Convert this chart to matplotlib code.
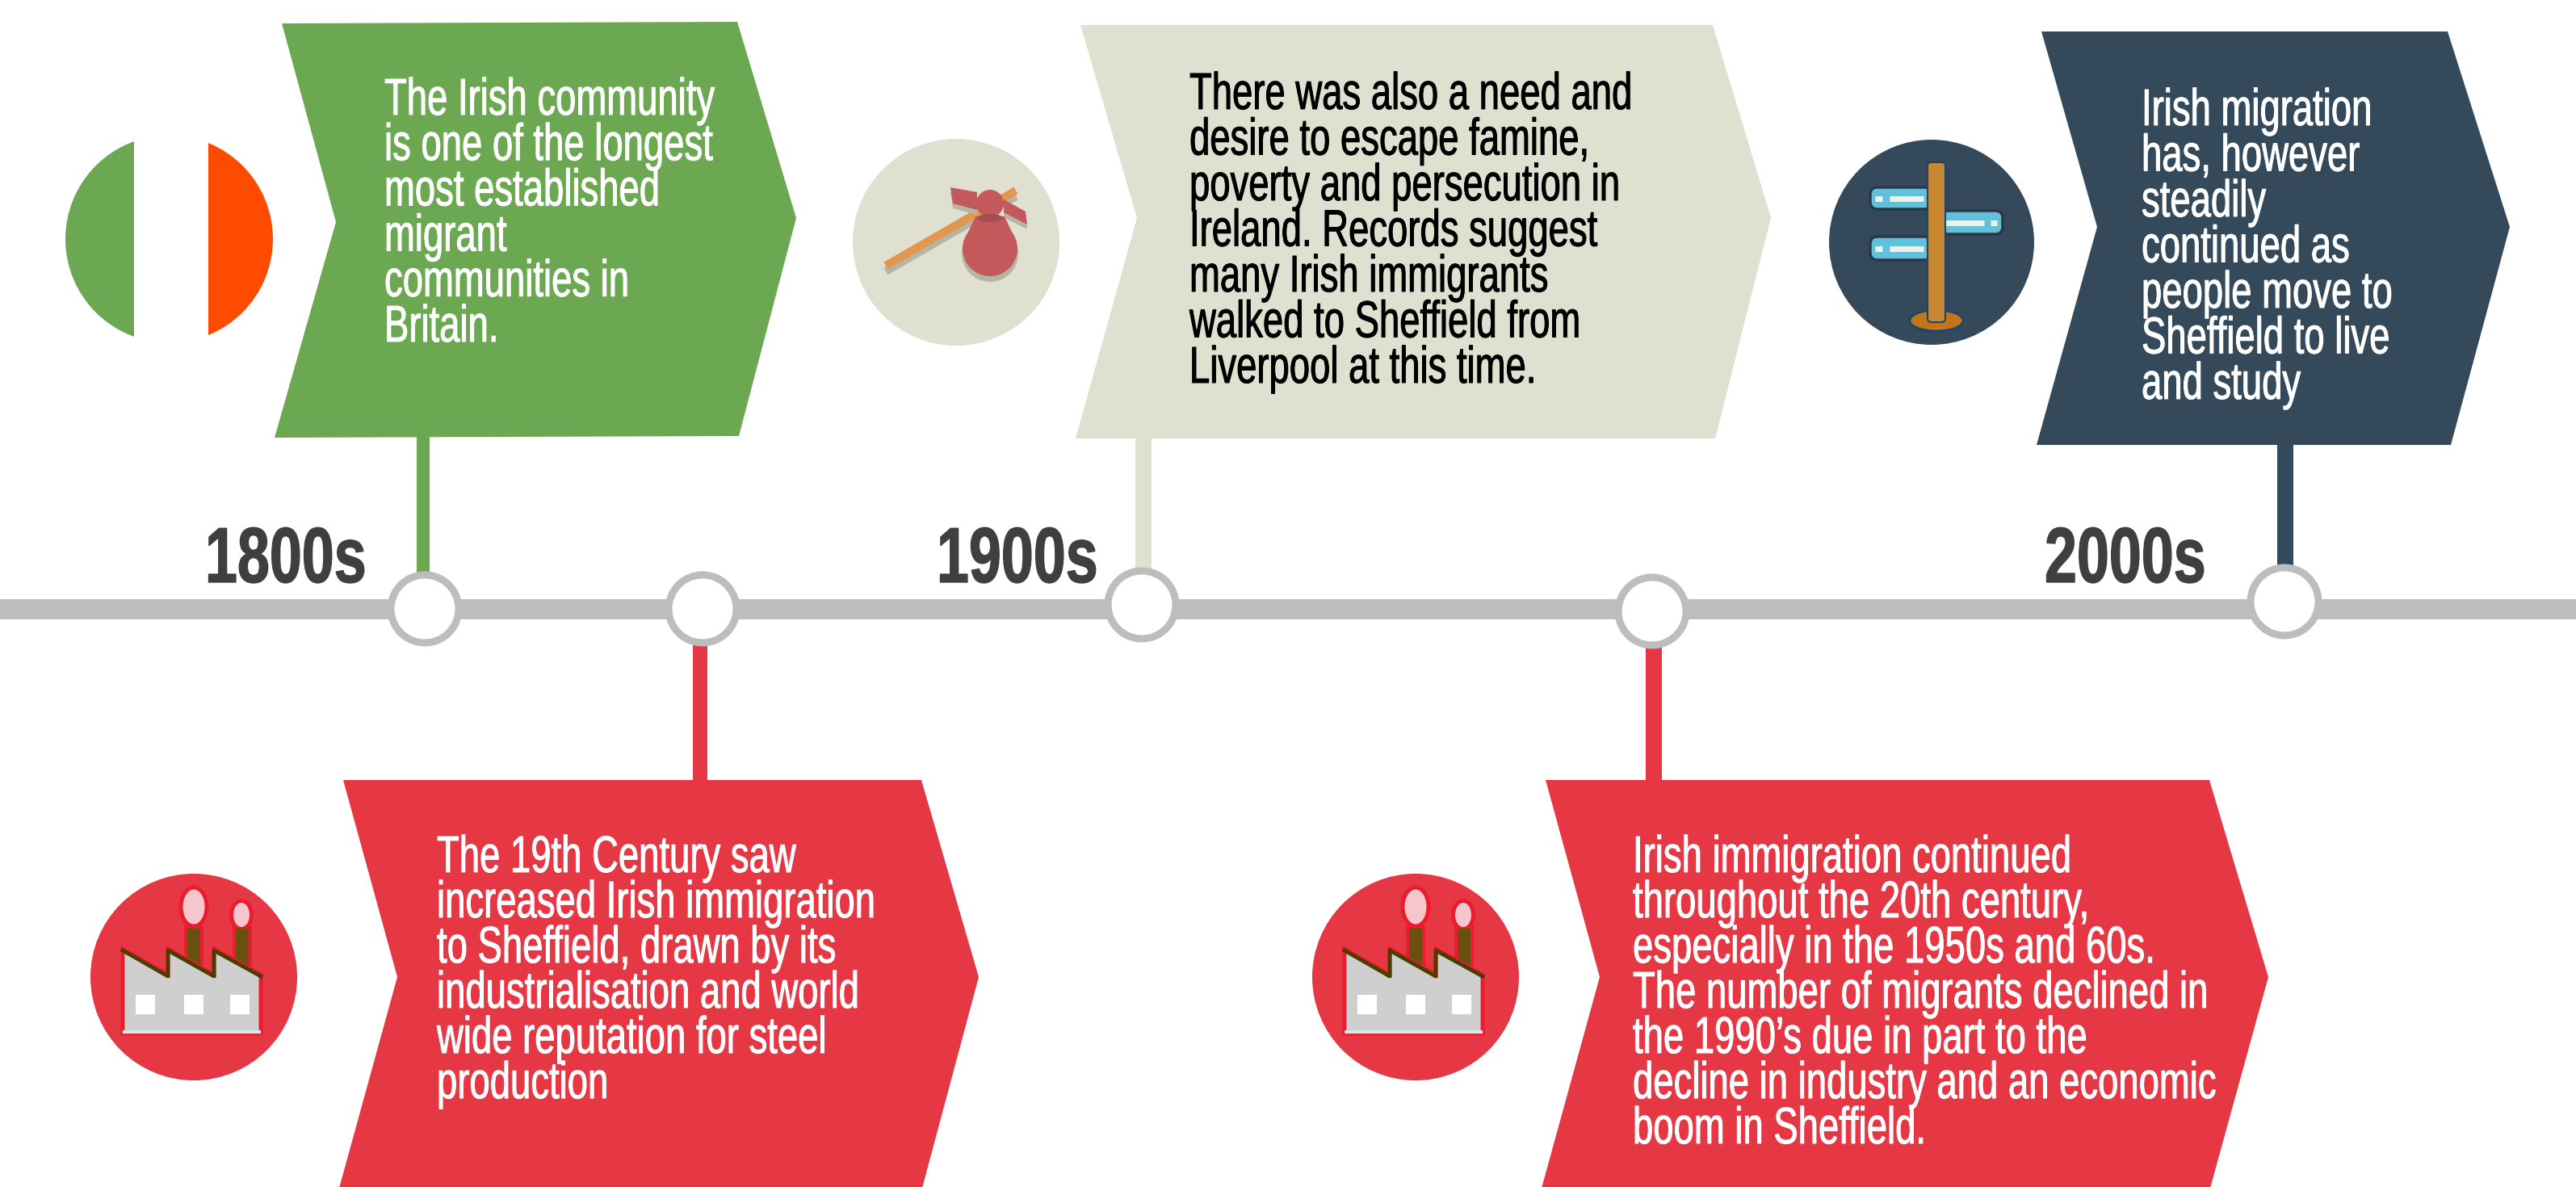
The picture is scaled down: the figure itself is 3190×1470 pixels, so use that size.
import matplotlib
matplotlib.use("Agg")
import matplotlib.pyplot as plt
from matplotlib.patches import Polygon, Circle, Ellipse, Rectangle, FancyBboxPatch
from matplotlib import font_manager as fm, patheffects as pe
from fontTools.ttLib import TTFont

W, H = 3190, 1470
PX = 0.72  # px -> pt at dpi 100


def condensed_font(src_family, weight, sx, new_family):
    """Write a horizontally condensed copy of an installed font and register it."""
    path = fm.findfont(fm.FontProperties(family=src_family, weight=weight))
    font = TTFont(path)
    glyf = font['glyf']
    for name in glyf.keys():
        g = glyf[name]
        if g.isComposite():
            for c in g.components:
                c.x = int(round(c.x * sx))
        elif g.numberOfContours > 0:
            g.coordinates.scale((sx, 1))
    hmtx = font['hmtx']
    for name, (adv, lsb) in list(hmtx.metrics.items()):
        hmtx.metrics[name] = (int(round(adv * sx)), int(round(lsb * sx)))
    for tag in ('fpgm', 'prep', 'cvt ', 'hdmx', 'VDMX', 'LTSH', 'GPOS', 'GSUB', 'GDEF', 'DSIG'):
        if tag in font:
            del font[tag]
    if 'kern' in font:
        for table in font['kern'].kernTables:
            table.kernTable = {k: int(round(v * sx)) for k, v in table.kernTable.items()}
    for rec in font['name'].names:
        if rec.nameID in (1, 4, 16):
            rec.string = new_family
        elif rec.nameID == 6:
            rec.string = new_family.replace(' ', '')
        elif rec.nameID in (2, 17):
            rec.string = 'Regular'
    font['OS/2'].usWeightClass = 400
    font['OS/2'].fsSelection = 0x40
    font['head'].macStyle = 0
    out = new_family.replace(' ', '') + '.ttf'
    font.save(out)
    fm.fontManager.addfont(out)


condensed_font('Liberation Sans', 'normal', 0.71, 'Narrow Body')
condensed_font('Liberation Sans', 'bold', 0.74, 'Narrow Head')
BODY = ['Narrow Body', 'Roboto', 'DejaVu Sans']
HEAD = ['Narrow Head', 'Roboto', 'DejaVu Sans']

# ---- content ----
years = ['1800s', '1900s', '2000s']
green_text = ['The Irish community', 'is one of the longest', 'most established', 'migrant',
              'communities in', 'Britain.']
beige_text = ['There was also a need and', 'desire to escape famine,', 'poverty and persecution in',
              'Ireland. Records suggest', 'many Irish immigrants', 'walked to Sheffield from',
              'Liverpool at this time.']
navy_text = ['Irish migration', 'has, however', 'steadily', 'continued as', 'people move to',
             'Sheffield to live', 'and study']
red1_text = ['The 19th Century saw', 'increased Irish immigration', 'to Sheffield, drawn by its',
             'industrialisation and world', 'wide reputation for steel', 'production']
red2_text = ['Irish immigration continued', 'throughout the 20th century,',
             'especially in the 1950s and 60s.', 'The number of migrants declined in',
             'the 1990\u2019s due in part to the', 'decline in industry and an economic',
             'boom in Sheffield.']

# ---- colours ----
GREEN, ORANGE, BEIGE, NAVY, RED = '#6BA851', '#FF4B00', '#DFE0CF', '#34495A', '#E53744'
LINE, DARK = '#BDBDBD', '#3F3F3F'

# ---- layout (pixel coordinates of the 3190x1470 canvas) ----
arrows = [
    ([(349, 29), (913, 27), (986, 270), (915, 540), (340, 542), (416, 275)], GREEN),
    ([(1338, 31), (2121, 31), (2193, 270), (2124, 543), (1332, 543), (1408, 270)], BEIGE),
    ([(2528, 39), (3031, 39), (3108, 281), (3035, 551), (2522, 551), (2597, 281)], NAVY),
    ([(425, 966), (1141, 966), (1212, 1210), (1141, 1475), (419, 1475), (492, 1210)], RED),
    ([(1914, 966), (2736, 966), (2809, 1210), (2736, 1475), (1908, 1475), (1981, 1210)], RED),
]
stems = [(516, 16, 540, 720, GREEN), (1406, 20, 543, 720, BEIGE), (2820, 20, 551, 720, NAVY),
         (858, 18, 790, 970, RED), (2038, 20, 790, 970, RED)]
nodes = [(526, 754), (870, 754), (1414, 749), (2046, 757), (2829, 745)]
blocks = [(green_text, 476, 142, 56.2, 'white', 64),
          (beige_text, 1473, 135, 56.5, 'black', 64),
          (navy_text, 2652, 155, 56.5, 'white', 64),
          (red1_text, 541, 1080, 56.0, 'white', 64),
          (red2_text, 2022, 1080, 56.0, 'white', 64)]
year_pos = [(254, 721), (1160, 721), (2532, 721)]

fig = plt.figure(figsize=(W / 100, H / 100), dpi=100, facecolor='white')
ax = fig.add_axes([0, 0, 1, 1])
ax.set_xlim(0, W)
ax.set_ylim(H, 0)
ax.axis('off')

# timeline
ax.add_patch(Rectangle((0, 742), W, 25, color=LINE, lw=0, zorder=1))
for x, w, y0, y1, c in stems:
    ax.add_patch(Rectangle((x, y0), w, y1 - y0, color=c, lw=0, zorder=1))
for pts, c in arrows:
    ax.add_patch(Polygon(pts, closed=True, color=c, lw=0, zorder=2))
for x, y in nodes:
    ax.add_patch(Circle((x, y), 42, fc='white', ec=LINE, lw=6.5, zorder=3))

# text
for lines, x, y, step, c, size in blocks:
    for i, s in enumerate(lines):
        ax.text(x, y + i * step, s, color=c, fontsize=size * PX, family=BODY,
                ha='left', va='baseline', zorder=5,
                path_effects=[pe.withStroke(linewidth=0.7, foreground=c)])
for s, (x, y) in zip(years, year_pos):
    ax.text(x, y, s, color=DARK, fontsize=97 * PX, family=HEAD,
            ha='left', va='baseline', zorder=5,
            path_effects=[pe.withStroke(linewidth=1.0, foreground=DARK)])

# flag
clip = Circle((209.5, 296), 128.5, transform=ax.transData)
for x0, x1, c in [(70, 166, GREEN), (166, 258, 'white'), (258, 345, ORANGE)]:
    r = Rectangle((x0, 160), x1 - x0, 280, color=c, lw=0, zorder=2)
    ax.add_patch(r)
    r.set_clip_path(clip)

# bundle icon
BAG, SHADOW = '#C4595C', '#B5B5A5'
ax.add_patch(Circle((1184, 300), 128, color=BEIGE, lw=0, zorder=2))
ax.plot([1097, 1258], [336, 243], color=SHADOW, lw=10 * PX, solid_capstyle='butt', zorder=3)
ax.plot([1097, 1258], [329, 236], color='#E39650', lw=10 * PX, solid_capstyle='butt', zorder=3)
ax.add_patch(Ellipse((1226, 314), 70, 70, color=SHADOW, lw=0, zorder=3))
for pts in ([(1177, 232), (1210, 238), (1210, 260), (1180, 252)],
            [(1243, 247), (1270, 262), (1272, 278), (1243, 263)]):
    ax.add_patch(Polygon([(x, y + 6) for x, y in pts], color=SHADOW, lw=0, zorder=3))
    ax.add_patch(Polygon(pts, color=BAG, lw=0, zorder=4))
ax.add_patch(Ellipse((1226, 308), 68, 68, color=BAG, lw=0, zorder=4))
ax.add_patch(Polygon([(1208, 268), (1244, 268), (1259, 300), (1193, 300)], color=BAG, lw=0, zorder=4))
ax.add_patch(Circle((1226, 252), 17, color=BAG, lw=0, zorder=4))
ax.add_patch(Ellipse((1226, 270), 32, 10, color='#A54F52', lw=0, zorder=4))

# signpost icon
ax.add_patch(Circle((2392, 300), 127, color=NAVY, lw=0, zorder=2))
for x0, y0, x1, y1, flip in [(2316, 232, 2392, 259, False), (2404, 261, 2480, 290, True),
                             (2316, 293, 2392, 322, False)]:
    ax.add_patch(FancyBboxPatch((x0 + 9, y0 + 9), x1 - x0 - 18, y1 - y0 - 18,
                                boxstyle='round,pad=9', fc='#62C0DA', ec='#27384A', lw=2.5, zorder=3))
    my = (y0 + y1) / 2
    if flip:
        ax.plot([x0 + 5, x1 - 23], [my, my], color='#F4EEE6', lw=7 * PX, zorder=4, solid_capstyle='butt')
        ax.plot([x1 - 15, x1 - 7], [my, my], color='#F4EEE6', lw=7 * PX, zorder=4, solid_capstyle='butt')
    else:
        ax.plot([x0 + 24, x1 - 10], [my, my], color='#F4EEE6', lw=7 * PX, zorder=4, solid_capstyle='butt')
        ax.plot([x0 + 6, x0 + 15], [my, my], color='#F4EEE6', lw=7 * PX, zorder=4, solid_capstyle='butt')
ax.add_patch(Ellipse((2398, 397), 66, 26, fc='#C4751B', ec='#1F4568', lw=2, zorder=4))
ax.add_patch(FancyBboxPatch((2392, 206), 12, 188, boxstyle='round,pad=5', fc='#C98732', ec='#1F4568', lw=1.5, zorder=5))
ax.add_patch(Ellipse((2398, 397), 62, 22, fc='#C4751B', ec='none', zorder=4))

# factory icons
def factory(dx):
    ax.add_patch(Circle((240 + dx, 1210), 128, color=RED, lw=0, zorder=2))
    for cx, cy, w, h in [(240, 1123, 27, 43), (299, 1133, 20, 30)]:
        ax.add_patch(Ellipse((cx + dx, cy), w + 10, h + 10, color='#EB1C2D', lw=0, zorder=3))
        ax.add_patch(Ellipse((cx + dx, cy), w, h, color='#F5C6CB', lw=0, zorder=4))
    for x0 in (232, 292):
        ax.add_patch(Rectangle((x0 + dx - 4, 1146), 24, 50, color='#EB1C2D', lw=0, zorder=3))
        ax.add_patch(Rectangle((x0 + dx, 1150), 16, 50, color='#6A4F10', lw=0, zorder=4))
    roof = [(152, 1175), (208, 1207), (208, 1175), (265, 1207), (265, 1175), (323, 1207)]
    body = roof + [(323, 1280), (152, 1280)]
    ax.add_patch(Polygon([(x + dx, y) for x, y in body], closed=True, fc='#CFCFCF', ec='#EB1C2D', lw=3.5, zorder=5))
    ax.plot([152 + dx, 323 + dx], [1278, 1278], color='#CDEBE8', lw=3, zorder=6, solid_capstyle='butt')
    ax.plot([x + dx for x, _ in roof], [y + 2 for _, y in roof], color='#4D3B00', lw=3.5, zorder=6)
    for x0 in (168, 228, 285):
        ax.add_patch(Rectangle((x0 + dx, 1232), 24, 24, color='white', lw=0, zorder=6))

factory(0)
factory(1513)

fig.savefig('out.png', dpi=100, facecolor='white')
